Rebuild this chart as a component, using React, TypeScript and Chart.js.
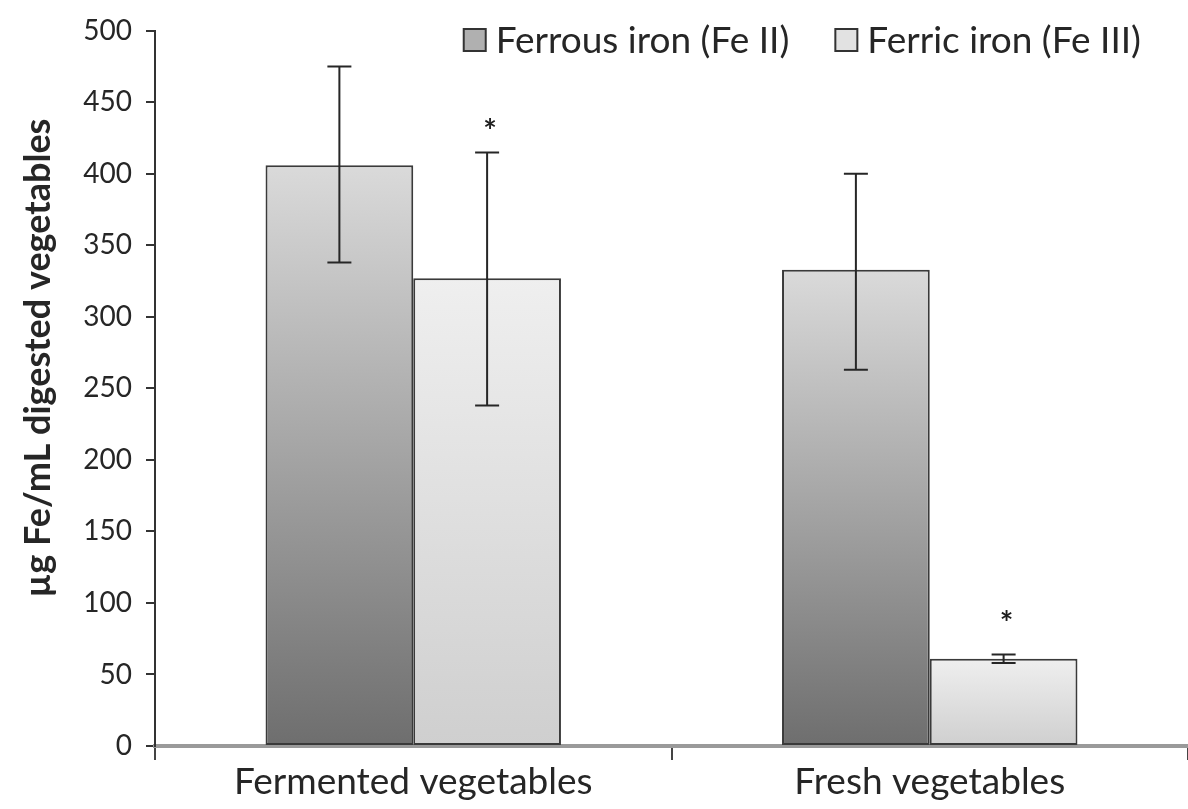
import React, { useEffect, useRef } from "react";
import { Chart, registerables } from "chart.js";

Chart.register(...registerables);

const categories = ["Fermented vegetables", "Fresh vegetables"];
const seriesLabels = ["Ferrous iron (Fe II)", "Ferric iron (Fe III)"];
const ferrousMeans = [406, 333];
const ferrousLow = [338, 263];
const ferrousHigh = [475, 400];
const ferricMeans = [327, 61];
const ferricLow = [238, 58];
const ferricHigh = [415, 64];
const ferrousStars: (number | null)[] = [null, null];
const ferricStars: (number | null)[] = [434, 90];
const yMin = 0;
const yMax = 500;
const yStep = 50;
const yTitle = "µg Fe/mL digested vegetables";

const FONT = "Lato, 'Open Sans', sans-serif";
const TEXT = "#262626";

const seriesFill = [
  { top: "#dadada", bottom: "#6e6e6e", legend: "#b0b0b0" },
  { top: "#efefef", bottom: "#cfcfcf", legend: "#e2e2e2" },
];

function gradientFill(top: string, bottom: string) {
  return (ctx: any) => {
    const chart = ctx.chart;
    if (!chart.chartArea || ctx.type !== "data" || !chart.scales.y) return bottom;
    const ys = chart.scales.y;
    const y0 = ys.getPixelForValue(0);
    const y1 = ys.getPixelForValue(ctx.raw as number);
    if (!isFinite(y0) || !isFinite(y1) || y0 === y1) return bottom;
    const g = chart.ctx.createLinearGradient(0, y1, 0, y0);
    g.addColorStop(0, top);
    g.addColorStop(1, bottom);
    return g;
  };
}

const errorLows = [ferrousLow, ferricLow];
const errorHighs = [ferrousHigh, ferricHigh];
const stars = [ferrousStars, ferricStars];

const errorBarPlugin = {
  id: "errorBars",
  afterDatasetsDraw(chart: any) {
    const { ctx } = chart;
    const ys = chart.scales.y;
    ctx.save();
    ctx.strokeStyle = "#262626";
    ctx.lineWidth = 2;
    chart.data.datasets.forEach((_: any, i: number) => {
      const meta = chart.getDatasetMeta(i);
      meta.data.forEach((el: any, j: number) => {
        const x = el.x;
        const yl = ys.getPixelForValue(errorLows[i][j]);
        const yh = ys.getPixelForValue(errorHighs[i][j]);
        const cap = 12;
        ctx.beginPath();
        ctx.moveTo(x, yl);
        ctx.lineTo(x, yh);
        ctx.moveTo(x - cap, yl);
        ctx.lineTo(x + cap, yl);
        ctx.moveTo(x - cap, yh);
        ctx.lineTo(x + cap, yh);
        ctx.stroke();
        const s = stars[i][j];
        if (s !== null && s !== undefined) {
          ctx.fillStyle = "#1e1e1e";
          ctx.font = `bold 32px ${FONT}`;
          ctx.textAlign = "center";
          ctx.textBaseline = "middle";
          ctx.fillText("*", x + 3, ys.getPixelForValue(s) + 7);
        }
      });
    });
    ctx.restore();
  },
};

const legendPlugin = {
  id: "customLegend",
  afterDraw(chart: any) {
    const { ctx } = chart;
    ctx.save();
    ctx.font = `37px ${FONT}`;
    ctx.textBaseline = "middle";
    ctx.textAlign = "left";
    const box = 22;
    const gap = 10;
    const spacing = 46;
    const yc = 40;
    const labels: string[] = chart.data.datasets.map((d: any) => d.label);
    const widths = labels.map((l) => ctx.measureText(l).width);
    const total = widths.reduce((a, w) => a + box + gap + w, 0) + spacing * (labels.length - 1);
    let x = 1141 - total;
    labels.forEach((l, i) => {
      ctx.fillStyle = seriesFill[i].legend;
      ctx.fillRect(x, yc - box / 2, box, box);
      ctx.strokeStyle = "#333";
      ctx.lineWidth = 2;
      ctx.strokeRect(x, yc - box / 2, box, box);
      ctx.fillStyle = TEXT;
      ctx.fillText(l, x + box + gap, yc + 1);
      x += box + gap + widths[i] + spacing;
    });
    ctx.restore();
  },
};

const yTitlePlugin = {
  id: "yTitle",
  afterDraw(chart: any) {
    const { ctx } = chart;
    ctx.save();
    ctx.translate(38, 358);
    ctx.rotate(-Math.PI / 2);
    ctx.font = `bold 36px ${FONT}`;
    ctx.fillStyle = TEXT;
    ctx.textAlign = "center";
    ctx.textBaseline = "middle";
    ctx.fillText(yTitle, 0, 0);
    ctx.restore();
  },
};

export default function App() {
  const ref = useRef<HTMLCanvasElement | null>(null);
  useEffect(() => {
    if (!ref.current) return;
    const chart = new Chart(ref.current, {
      type: "bar",
      data: {
        labels: categories,
        datasets: [
          {
            label: seriesLabels[0],
            data: ferrousMeans,
            backgroundColor: gradientFill(seriesFill[0].top, seriesFill[0].bottom),
            borderColor: "#3a3a3a",
            borderWidth: 2,
            borderSkipped: false,
          },
          {
            label: seriesLabels[1],
            data: ferricMeans,
            backgroundColor: gradientFill(seriesFill[1].top, seriesFill[1].bottom),
            borderColor: "#3a3a3a",
            borderWidth: 2,
            borderSkipped: false,
          },
        ],
      },
      options: {
        animation: false,
        responsive: true,
        maintainAspectRatio: false,
        datasets: { bar: { categoryPercentage: 0.572, barPercentage: 1 } },
        layout: { padding: { top: 30, right: 0, bottom: 0, left: 0 } },
        plugins: { legend: { display: false }, tooltip: { enabled: false } },
        scales: {
          x: {
            offset: true,
            grid: {
              display: true,
              offset: true,
              drawOnChartArea: false,
              drawTicks: true,
              tickLength: 14,
              color: "#444",
              lineWidth: 2,
            },
            border: { display: true, color: "#9a9a9a", width: 4 },
            ticks: { font: { family: FONT, size: 37 }, color: TEXT, padding: 0 },
            afterFit(scale: any) {
              scale.height = 63;
            },
          },
          y: {
            min: yMin,
            max: yMax,
            ticks: { stepSize: yStep, font: { family: FONT, size: 28 }, color: TEXT, padding: 14 },
            grid: { drawOnChartArea: false, drawTicks: true, tickLength: 9, color: "#333", lineWidth: 2 },
            border: { display: true, color: "#333", width: 2 },
            afterFit(scale: any) {
              scale.width = 155;
            },
          },
        },
      },
      plugins: [errorBarPlugin, legendPlugin, yTitlePlugin],
    });
    return () => chart.destroy();
  }, []);
  return (
    <div style={{ position: "absolute", left: 0, top: 0, width: 1188, height: 809, background: "#fff" }}>
      <canvas ref={ref} />
    </div>
  );
}
